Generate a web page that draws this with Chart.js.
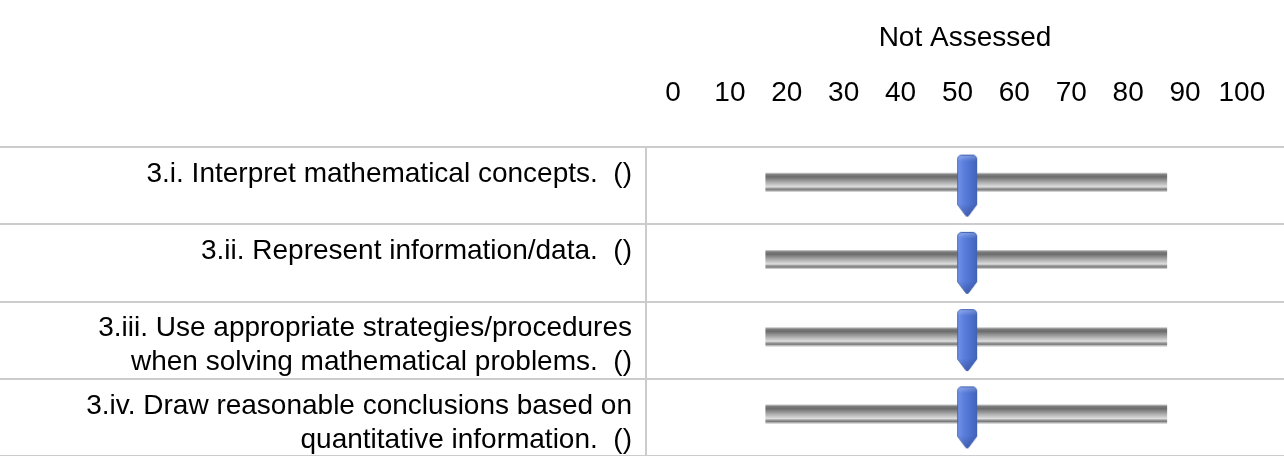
<!DOCTYPE html>
<html>
<head>
<meta charset="utf-8">
<script src="https://cdn.jsdelivr.net/npm/chart.js@4.4.0/dist/chart.umd.min.js"></script>
<style>
  html, body { margin: 0; padding: 0; background: #fff; }
  #chart { display: block; }
</style>
</head>
<body>
<canvas id="chart" width="1284" height="456"></canvas>
<script>
// rows (single-line rows get an empty second line so every label block is two lines tall)
const rowLabels = [
  ["3.i. Interpret mathematical concepts.  ()", ""],
  ["3.ii. Represent information/data.  ()", ""],
  ["3.iii. Use appropriate strategies/procedures", "when solving mathematical problems.  ()"],
  ["3.iv. Draw reasonable conclusions based on", "quantitative information.  ()"]
];
const axisTitle = "Not Assessed";
const scaleTicks = [0, 10, 20, 30, 40, 50, 60, 70, 80, 90, 100];
const trackStart = [16.3, 16.3, 16.3, 16.3];
const trackEnd = [86.8, 86.8, 86.8, 86.8];
const markerValues = [51.7, 51.7, 51.7, 51.7];

const FONT = '"Liberation Sans", Arial, sans-serif';
const GRID = "#cccccc";
const LABEL_W = 646;
const HEADER_H = 147;
const BAR_H = 25;       // bar slot; the visible track is the top 19px of it
const TRACK_FRAC = 19 / 25;

Chart.defaults.font.family = FONT;
Chart.defaults.color = "#000";

const trackStops = [
  [0.00, "#c4c4c4"],
  [0.08, "#7c7c7c"],
  [0.20, "#6c6c6c"],
  [0.50, "#b0b0b0"],
  [0.72, "#dedede"],
  [0.80, "#9c9c9c"],
  [0.88, "#7a7a7a"],
  [0.95, "#c6c6c6"],
  [1.00, "#e2e2e2"]
];

const trackFill = (ctx) => {
  const chart = ctx.chart;
  const yScale = chart.scales.y;
  if (!chart.chartArea || !yScale || ctx.dataIndex === undefined) {
    return "#999";
  }
  const cy = yScale.getPixelForValue(ctx.dataIndex);
  const top = cy - BAR_H / 2;
  const g = chart.ctx.createLinearGradient(0, top, 0, top + BAR_H);
  trackStops.forEach(([f, c]) => g.addColorStop(f * TRACK_FRAC, c));
  g.addColorStop(TRACK_FRAC + 0.001, "rgba(255,255,255,0)");
  g.addColorStop(1, "rgba(255,255,255,0)");
  return g;
};

// slider thumb used as the point style
const makeMarker = () => {
  const w = 22, h = 64;
  const c = document.createElement("canvas");
  c.width = w;
  c.height = h;
  const g = c.getContext("2d");
  g.beginPath();
  g.moveTo(1.5, 6);
  g.quadraticCurveTo(1.5, 1.5, 6, 1.5);
  g.lineTo(16, 1.5);
  g.quadraticCurveTo(20.5, 1.5, 20.5, 6);
  g.lineTo(20.5, 51);
  g.lineTo(12, 62.5);
  g.lineTo(10, 62.5);
  g.lineTo(1.5, 51);
  g.closePath();
  const hg = g.createLinearGradient(0, 0, w, 0);
  hg.addColorStop(0, "#7898ec");
  hg.addColorStop(0.35, "#5b7fde");
  hg.addColorStop(1, "#3f61b9");
  g.fillStyle = hg;
  g.fill();
  const vg = g.createLinearGradient(0, 0, 0, h);
  vg.addColorStop(0, "rgba(255,255,255,0.35)");
  vg.addColorStop(0.12, "rgba(255,255,255,0)");
  vg.addColorStop(0.78, "rgba(0,0,40,0)");
  vg.addColorStop(1, "rgba(0,0,40,0.25)");
  g.fillStyle = vg;
  g.fill();
  g.strokeStyle = "#4262b0";
  g.lineWidth = 1;
  g.stroke();
  return c;
};

new Chart(document.getElementById("chart"), {
  type: "bar",
  data: {
    labels: rowLabels,
    datasets: [
      {
        type: "line",
        label: "Score",
        data: markerValues,
        indexAxis: "y",
        showLine: false,
        pointStyle: makeMarker(),
        pointRadius: 10,
        order: 0
      },
      {
        type: "bar",
        label: "Range",
        data: rowLabels.map((_, i) => [trackStart[i], trackEnd[i]]),
        backgroundColor: trackFill,
        barThickness: BAR_H,
        borderWidth: 0,
        borderSkipped: false,
        order: 1
      }
    ]
  },
  options: {
    indexAxis: "y",
    responsive: false,
    animation: false,
    devicePixelRatio: 1,
    layout: { padding: 0, autoPadding: false },
    plugins: {
      legend: { display: false },
      tooltip: { enabled: false }
    },
    scales: {
      x: {
        type: "linear",
        position: "top",
        min: -4.75,
        max: 107.4,
        afterBuildTicks: (s) => { s.ticks = scaleTicks.map((v) => ({ value: v })); },
        afterFit: (s) => { s.height = HEADER_H; },
        grid: { display: true, color: "rgba(0,0,0,0)", drawOnChartArea: false, drawTicks: true, tickLength: 37 },
        border: { display: false },
        ticks: { font: { size: 28 }, color: "#000", padding: 0, maxRotation: 0, autoSkip: false },
        title: { display: true, text: axisTitle, font: { size: 28 }, color: "#000", padding: { top: 21, bottom: 0 } }
      },
      y: {
        type: "category",
        offset: true,
        afterFit: (s) => { s.width = LABEL_W; },
        grid: { offset: true, color: GRID, lineWidth: 2, drawTicks: true, tickLength: LABEL_W },
        border: { display: true, color: GRID, width: 2 },
        ticks: {
          font: { size: 28, lineHeight: 34 / 28 },
          color: "#000",
          padding: -(LABEL_W - 14),
          crossAlign: "near",
          labelOffset: 5.5,
          autoSkip: false
        }
      }
    }
  }
});
</script>
</body>
</html>
